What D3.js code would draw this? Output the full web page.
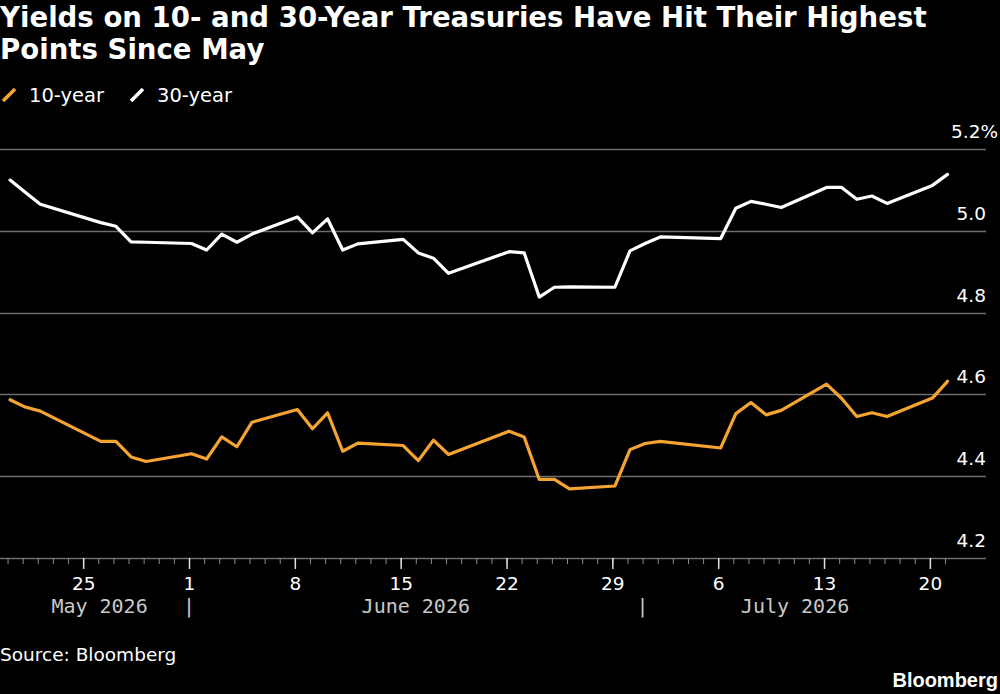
<!DOCTYPE html>
<html>
<head>
<meta charset="utf-8">
<script src="https://cdn.jsdelivr.net/npm/d3@7"></script>
<style>
  body { margin: 0; background: #000; }
  svg { display: block; background: #000; }
  .title { font-family: "DejaVu Sans"; font-weight: bold; font-size: 27.6px; fill: #fff; }
  .legend-label { font-family: "DejaVu Sans"; font-size: 19.5px; fill: #fff; }
  .y-label, .source { font-family: "DejaVu Sans"; font-size: 18.5px; fill: #fff; }
  .month-label { font-family: "DejaVu Sans Mono"; font-size: 20px; fill: #c8c8c8; }
  .logo { font-family: "Liberation Sans"; font-weight: bold; font-size: 20px; fill: #fff; }
  .line { fill: none; stroke-width: 3.2px; stroke-linejoin: round; stroke-linecap: round; }
</style>
</head>
<body>
<div id="chart"></div>
<script>
// trading days and yields (percent)
var dates = [
  "2026-05-20","2026-05-21","2026-05-22","2026-05-26","2026-05-27","2026-05-28","2026-05-29",
  "2026-06-01","2026-06-02","2026-06-03","2026-06-04","2026-06-05",
  "2026-06-08","2026-06-09","2026-06-10","2026-06-11","2026-06-12",
  "2026-06-15","2026-06-16","2026-06-17","2026-06-18",
  "2026-06-22","2026-06-23","2026-06-24","2026-06-25","2026-06-26",
  "2026-06-29","2026-06-30","2026-07-01","2026-07-02",
  "2026-07-06","2026-07-07","2026-07-08","2026-07-09","2026-07-10",
  "2026-07-13","2026-07-14","2026-07-15","2026-07-16","2026-07-17",
  "2026-07-20","2026-07-21"
];
var tenYear = [
  4.587, 4.569, 4.559, 4.485, 4.485, 4.447, 4.436,
  4.455, 4.442, 4.496, 4.472, 4.532,
  4.563, 4.516, 4.555, 4.461, 4.481,
  4.475, 4.438, 4.488, 4.453,
  4.510, 4.496, 4.392, 4.392, 4.369,
  4.376, 4.465, 4.480, 4.485,
  4.469, 4.553, 4.580, 4.550, 4.561,
  4.625, 4.590, 4.546, 4.555, 4.546,
  4.591, 4.632
];
var thirtyYear = [
  5.124, 5.094, 5.065, 5.020, 5.011, 4.973, 4.972,
  4.969, 4.953, 4.992, 4.972, 4.992,
  5.034, 4.995, 5.029, 4.953, 4.968,
  4.979, 4.946, 4.933, 4.896,
  4.949, 4.946, 4.838, 4.862, 4.863,
  4.862, 4.951, 4.969, 4.985,
  4.981, 5.055, 5.072, 5.065, 5.057,
  5.106, 5.106, 5.077, 5.085, 5.067,
  5.111, 5.138
];
var yTicks = [4.2, 4.4, 4.6, 4.8, 5.0, 5.2];
var seriesNames = ["10-year", "30-year"];
var seriesColors = ["#f5a432", "#ffffff"];
var monthLabels = ["May 2026", "June 2026", "July 2026"];
var titleLines = ["Yields on 10- and 30-Year Treasuries Have Hit Their Highest", "Points Since May"];

var width = 1000, height = 694;
var plotRight = 986;

var svg = d3.select("#chart")
  .append("svg")
    .attr("width", width)
    .attr("height", height);

// title
svg.selectAll(".title")
  .data(titleLines)
  .enter()
  .append("text")
    .attr("class", "title")
    .attr("x", 0)
    .attr("y", function(d, i) { return 27 + i * 32; })
    .text(function(d) { return d; });

// legend
var legendX = [0, 128];
var legend = svg.selectAll(".legend")
  .data(seriesNames)
  .enter()
  .append("g")
    .attr("transform", function(d, i) { return "translate(" + legendX[i] + ",0)"; });
legend.append("line")
    .attr("x1", 3).attr("y1", 101)
    .attr("x2", 15).attr("y2", 89)
    .style("stroke", function(d, i) { return seriesColors[i]; })
    .style("stroke-width", "3.5px");
legend.append("text")
    .attr("class", "legend-label")
    .attr("x", 29)
    .attr("y", 102)
    .text(function(d) { return d; });

// scales
var parseDate = d3.timeParse("%Y-%m-%d");
var x = d3.scaleTime()
    .domain([new Date(2026, 4, 19, 12), new Date(2026, 6, 23, 15, 30)])
    .range([0, plotRight - 1]);
var y = d3.scaleLinear()
    .domain([4.2, 5.2])
    .range([558, 149]);

// gridlines + y labels
svg.selectAll(".grid")
  .data(yTicks)
  .enter()
  .append("line")
    .attr("x1", 0)
    .attr("x2", plotRight)
    .attr("y1", function(d) { return Math.round(y(d)) + 0.5; })
    .attr("y2", function(d) { return Math.round(y(d)) + 0.5; })
    .style("stroke", "#6e6e6e")
    .style("stroke-width", "1.5px");

svg.selectAll(".y-label")
  .data(yTicks)
  .enter()
  .append("text")
    .attr("class", "y-label")
    .attr("x", function(d, i) { return i == yTicks.length - 1 ? 998 : plotRight; })
    .attr("y", function(d) { return y(d) - 11; })
    .attr("text-anchor", "end")
    .text(function(d, i) { return d.toFixed(1) + (i == yTicks.length - 1 ? "%" : ""); });

// x axis: minor day ticks and Monday ticks
var firstDay = parseDate(dates[0]);
var lastDay = parseDate(dates[dates.length - 1]);
var days = d3.timeDay.range(firstDay, d3.timeDay.offset(lastDay, 1));
var mondays = d3.timeMonday.range(firstDay, d3.timeDay.offset(lastDay, 1));

var minorAxis = svg.append("g")
    .attr("transform", "translate(0,558)")
    .call(d3.axisBottom(x).tickValues(days).tickSize(6).tickFormat(""));
minorAxis.select(".domain").remove();
minorAxis.selectAll("line").style("stroke", "#8a8a8a");

var majorAxis = svg.append("g")
    .attr("transform", "translate(0,558)")
    .call(d3.axisBottom(x).tickValues(mondays).tickSize(11).tickPadding(8).tickFormat(d3.timeFormat("%-d")));
majorAxis.select(".domain").remove();
majorAxis.selectAll("line").style("stroke", "#e0e0e0").style("stroke-width", "1.5px");
majorAxis.selectAll("text")
    .attr("dy", null)
    .attr("y", 32)
    .style("font-family", "DejaVu Sans")
    .style("font-size", "18.5px")
    .style("fill", "#fff");

// month labels and separators
var monthStarts = [new Date(2026, 5, 1), new Date(2026, 6, 1)];
var dataOffset = function(d) { return d3.timeHour.offset(parseDate(d), 4); };
var edges = [dataOffset(dates[0])].concat(monthStarts, [dataOffset(dates[dates.length - 1])]);
svg.selectAll(".month-label")
  .data(monthLabels)
  .enter()
  .append("text")
    .attr("class", "month-label")
    .attr("x", function(d, i) { return (x(edges[i]) + x(edges[i + 1])) / 2; })
    .attr("y", 613)
    .attr("text-anchor", "middle")
    .text(function(d) { return d; });
svg.selectAll(".month-sep")
  .data(monthStarts)
  .enter()
  .append("text")
    .attr("class", "month-label")
    .attr("x", function(d) { return x(d); })
    .attr("y", 613)
    .attr("text-anchor", "middle")
    .text("|");

// lines
var series = [tenYear, thirtyYear];
var line = d3.line()
    .x(function(d) { return x(d.date); })
    .y(function(d) { return y(d.value); });

svg.selectAll(".line")
  .data(series)
  .enter()
  .append("path")
    .attr("class", "line")
    .attr("d", function(values) {
        return line(values.map(function(v, i) { return {date: dataOffset(dates[i]), value: v}; }));
    })
    .style("stroke", function(d, i) { return seriesColors[i]; });

// footer
svg.append("text")
    .attr("class", "source")
    .attr("x", 0)
    .attr("y", 661)
    .text("Source: Bloomberg");
svg.append("text")
    .attr("class", "logo")
    .attr("x", 998)
    .attr("y", 687)
    .attr("text-anchor", "end")
    .text("Bloomberg");
</script>
</body>
</html>
